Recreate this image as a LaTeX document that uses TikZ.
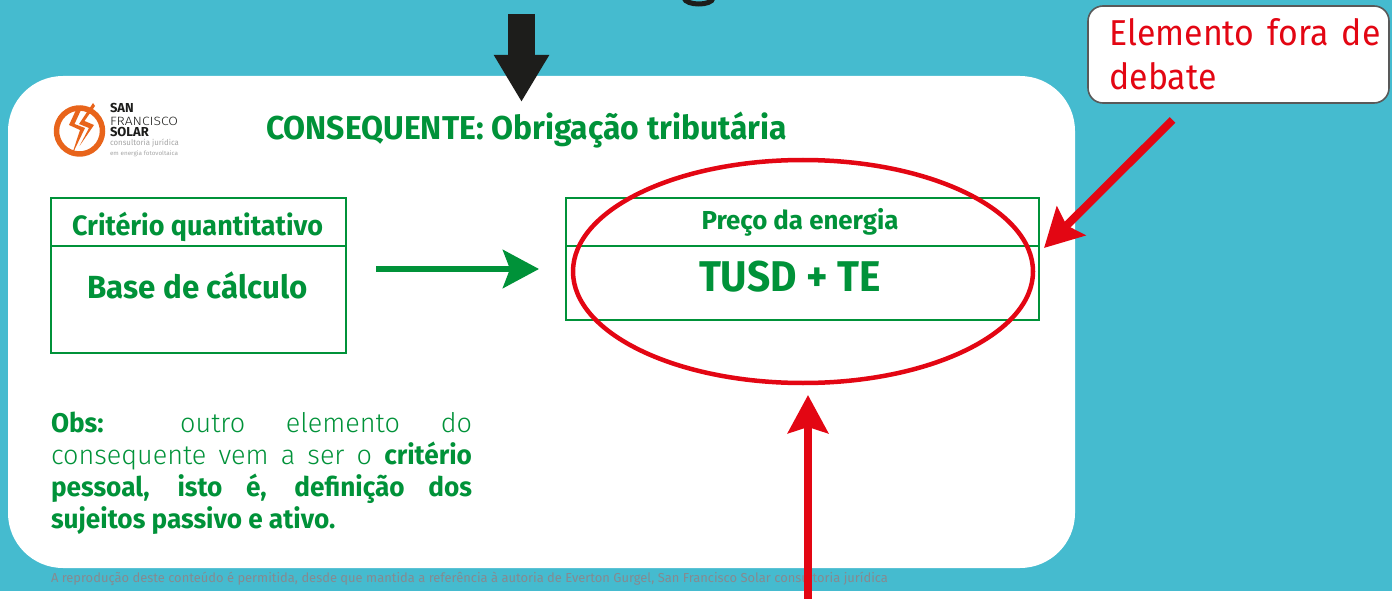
\documentclass[tikz,border=0pt]{standalone}
\usepackage{fontspec}
\usepackage{graphicx}
\setmainfont{Fira Sans}
\newfontfamily\lightfont{Fira Sans Light}
\newfontfamily\calloutfont[FakeStretch=0.94]{Fira Sans}
\newfontfamily\obsfont[FakeStretch=0.97]{Fira Sans Bold}
\usetikzlibrary{arrows.meta,shapes.geometric}
\definecolor{tealbg}{HTML}{45BBCF}
\definecolor{leaf}{HTML}{009239}
\definecolor{alert}{HTML}{E30613}
\definecolor{ink}{HTML}{1D1D1B}
\definecolor{flame}{HTML}{E8641B}
\definecolor{faint}{HTML}{87898F}
\newcommand{\fitw}[2]{\resizebox{#1}{\height}{#2}}
\newcommand{\obsbold}[1]{{\obsfont #1}}
\tikzset{
  txt/.style={anchor=base west,inner sep=0pt,outer sep=0pt},
  cellbox/.style={draw=leaf,line width=2pt,rectangle,inner sep=0pt,outer sep=0pt},
  redarrow/.style={draw=alert,line width=8pt,-{Stealth[length=38pt,width=40pt,inset=6pt,fill=alert]}},
  greenarrow/.style={draw=leaf,line width=6.5pt,-{Stealth[length=36pt,width=38pt,inset=7pt,fill=leaf]}},
  blackarrow/.style={draw=ink,line width=27pt,-{Stealth[length=47pt,width=52pt,inset=0pt,fill=ink]}},
  heading/.style={txt,text=leaf,font=\bfseries},
  logotext/.style={txt,text=ink},
}
\begin{document}
\begin{tikzpicture}[x=1pt,y=-1pt]
\useasboundingbox (0,0) rectangle (1392,599);
\fill[white] (0,0) rectangle (1392,599);
\fill[tealbg] (0,0) rectangle (1392,591);
% title descender fragment
\draw[ink,line width=5pt] (684,-2) .. controls (686,6) and (712,6) .. (713,-2);
% panel
\node[fill=white,rectangle,rounded corners=55pt,minimum width=1067pt,minimum height=492pt,inner sep=0pt,outer sep=0pt] (panel) at (541.5,322) {};
% logo
\coordinate (logoc) at (79.5,131);
\draw[flame,line width=5.5pt] ([shift={(122:23pt)}]logoc) arc[start angle=122,end angle=-298,radius=23pt];
\fill[flame] (76,110) -- (69,125) -- (80,130) -- (71.5,156) -- (85,128) -- (74.5,124) -- (80.5,111) -- cycle;
\fill[flame] (93,103) -- (79,124) -- (89,128) -- (79.5,146) -- (94,125) -- (84.5,121) -- (95,106) -- cycle;
\node[logotext,font=\bfseries\fontsize{13}{13}\selectfont] (l1) at (110,113) {SAN};
\node[logotext,font=\lightfont\fontsize{12}{12}\selectfont] (l2) at (110,125.5) {\fitw{68pt}{FRANCISCO}};
\node[logotext,font=\bfseries\fontsize{13}{13}\selectfont] (l3) at (110,137) {SOLAR};
\node[txt,text=gray!70,font=\fontsize{8}{8}\selectfont] (l4) at (110,146) {\fitw{69pt}{consultoria jurídica}};
\node[txt,text=gray!70,font=\fontsize{6}{6}\selectfont] (l5) at (110,156) {\fitw{68pt}{em energia fotovoltaica}};
% heading
\node[heading,font=\bfseries\fontsize{33}{33}\selectfont] (title) at (266,140) {\fitw{521pt}{CONSEQUENTE: Obrigação tributária}};
% left table
\node[cellbox,minimum width=295pt,minimum height=48pt] (lefthead) at (198.5,222) {};
\node[cellbox,minimum width=295pt,minimum height=107pt] (leftbody) at (198.5,299.5) {};
\node[heading,font=\bfseries\fontsize{28}{28}\selectfont] (crit) at (72,235) {\fitw{251pt}{Critério quantitativo}};
\node[heading,font=\bfseries\fontsize{32}{32}\selectfont] (base) at (87.5,298) {\fitw{220pt}{Base de cálculo}};
% right table
\node[cellbox,minimum width=473pt,minimum height=48pt] (righthead) at (802.5,222) {};
\node[cellbox,minimum width=473pt,minimum height=73.5pt] (rightbody) at (802.5,282.75) {};
\node[heading,font=\bfseries\fontsize{26}{26}\selectfont] (preco) at (701.5,229) {\fitw{197pt}{Preço da energia}};
\node[heading,font=\bfseries\fontsize{43}{43}\selectfont] (tusd) at (699,291) {\fitw{182pt}{TUSD + TE}};
% ellipse
\node[draw=alert,line width=4.5pt,ellipse,minimum width=460pt,minimum height=223pt,inner sep=0pt,outer sep=0pt] (oval) at (803,271.5) {};
% observation
\node[anchor=north west,inner sep=0pt,outer sep=0pt,text width=421pt,text=leaf,align=justify,font=\fontsize{27}{32}\selectfont] (obs) at (51,412) {\lightfont
\obsbold{Obs:} outro elemento do\linebreak
consequente vem a ser o \obsbold{critério}\linebreak
\obsbold{pessoal, isto é, definição dos}\linebreak
\obsbold{sujeitos passivo e ativo.}\par};
% footer
\node[txt,text=faint,font=\fontsize{13}{13}\selectfont] (foot) at (51,582) {\fitw{837pt}{A reprodução deste conteúdo é permitida, desde que mantida a referência à autoria de Everton Gurgel, San Francisco Solar consultoria jurídica}};
% callout
\node[draw=black!65,line width=1.6pt,fill=white,rectangle,rounded corners=15pt,minimum width=301pt,minimum height=97pt,inner sep=0pt,outer sep=0pt] (callout) at (1238.5,54.5) {};
\node[anchor=north west,inner sep=0pt,outer sep=0pt,text width=271pt,text=alert,align=justify,font=\fontsize{36}{44}\selectfont] (calltext) at (1109.5,19) {\calloutfont Elemento fora de\linebreak debate\par};
% arrows
\coordinate (blackstart) at (521.5,14);
\coordinate (blackend) at (521.5,102);
\draw[blackarrow] (blackstart) -- (blackend);
\coordinate (greenstart) at (376,269);
\coordinate (greenend) at (539,269);
\draw[greenarrow] (greenstart) -- (greenend);
\coordinate (upstart) at (808,599);
\coordinate (upend) at (808,395);
\draw[redarrow] (upstart) -- (upend);
\coordinate (diagstart) at (1172.5,120);
\coordinate (diagend) at (1044,248);
\draw[redarrow] (diagstart) -- (diagend);
\end{tikzpicture}
\end{document}
